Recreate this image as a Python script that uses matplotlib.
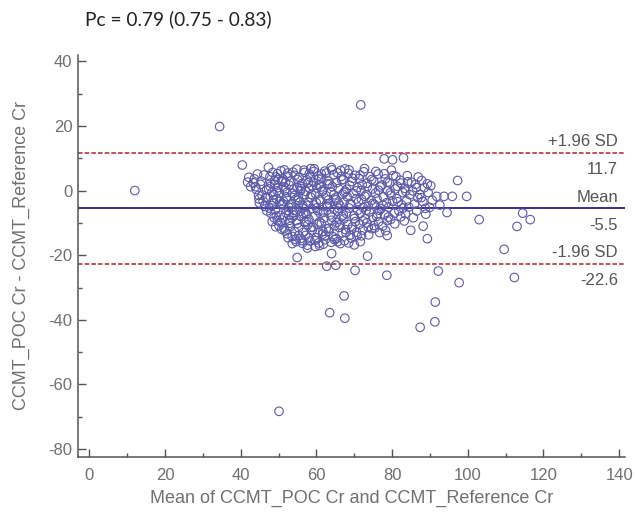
import matplotlib.pyplot as plt
from matplotlib.ticker import MultipleLocator

# Bland-Altman: mean of the two methods (x) and their difference (y)
mean_vals = [
    # main cluster
    40.4, 42.1, 42.6, 41.8,
    43.3, 44.1, 44.7, 43.6, 44.4, 44.9, 44.8, 43.9,
    46.1, 45.2, 46.8, 45.6, 45.9, 46.3, 46.9, 46.6, 45.4,
    48.4, 47.3, 48.9, 47.8, 48.2, 47.1, 48.6, 47.5, 48.0, 48.8, 48.3, 47.9, 48.7,
    50.6, 49.3, 50.9, 49.8, 50.2, 49.5, 50.7, 49.1, 50.4, 49.7, 50.1, 50.8, 49.9, 50.3, 49.6,
    52.4, 51.1, 52.8, 51.6, 52.1, 51.3, 52.6, 51.9, 51.2, 52.9, 51.5, 52.3, 52.0, 51.8, 52.7, 52.5,
    54.3, 53.2, 54.9, 53.7, 54.5, 53.4, 54.1, 53.9, 54.7, 53.1, 54.2, 53.6, 54.8, 53.3, 54.0, 54.6,
    56.7, 55.4, 56.2, 55.9, 56.8, 55.1, 56.4, 55.7, 56.0, 56.9, 55.3, 56.5, 55.8, 56.3, 55.6, 56.6, 55.2,
    58.1, 57.5, 58.8, 57.2, 58.4, 57.9, 58.6, 57.3, 58.0, 57.7, 58.9, 57.1, 58.3, 57.6, 58.5, 57.4, 58.2,
    60.5, 59.2, 60.1, 59.8, 60.9, 59.4, 60.3, 59.6, 60.8, 59.1, 60.4, 59.9, 60.6, 59.3, 60.0, 60.7, 59.7,
    62.2, 61.4, 62.9, 61.7, 62.5, 61.1, 62.8, 61.9, 62.0, 61.3, 62.6, 61.6, 62.3, 61.8, 62.7, 61.2,
    64.5, 63.1, 64.2, 63.8, 64.9, 63.4, 64.7, 63.6, 64.0, 64.8, 63.3, 64.4, 63.9, 64.1, 63.2,
    66.6, 65.3, 66.4, 65.8, 66.9, 65.1, 66.2, 65.6, 66.7, 65.4, 66.0, 66.8, 65.2, 66.3, 65.9,
    68.4, 67.1, 68.8, 67.6, 68.1, 67.3, 68.6, 67.9, 67.2, 68.3, 67.7, 68.9, 67.4, 68.0,
    70.2, 69.4, 70.8, 69.7, 70.5, 69.1, 70.9, 69.9, 70.3, 69.5, 70.6, 69.2, 70.0,
    72.5, 71.3, 72.1, 71.8, 72.8, 71.1, 72.4, 71.6, 72.9, 71.4, 72.2, 71.9,
    74.2, 73.4, 74.8, 73.1, 74.5, 73.7, 74.0, 74.9, 73.3, 74.6, 73.8,
    76.3, 75.1, 76.8, 75.6, 76.0, 75.3, 76.6, 75.9, 76.4, 75.4,
    78.2, 77.3, 78.8, 77.7, 78.5, 77.1, 78.0, 78.7, 77.5,
    80.3, 79.3, 80.8, 79.7, 80.1, 79.1, 80.6, 79.6,
    82.1, 81.4, 82.8, 81.2, 82.5, 81.8, 82.3,
    84.1, 83.3, 84.7, 83.8, 84.4, 83.5,
    86.2, 85.4, 86.8, 85.9, 86.5,
    87.8, 88.5, 87.3, 88.1, 88.8,
    90.2, 89.5, 90.6, 89.9,
    # second pass over the dense core
    47.7, 49.0, 48.2, 49.4, 47.4, 49.7, 48.6, 49.2,
    51.5, 50.8, 52.2, 51.0, 52.6, 50.5, 51.7, 52.9, 51.3, 52.4,
    53.8, 55.0, 54.2, 55.6, 53.5, 54.9, 55.3, 54.4, 55.8, 53.9,
    56.9, 57.8, 58.7, 56.4, 57.4, 58.6, 56.2, 57.9, 58.3, 57.1,
    59.4, 60.6, 61.5, 59.9, 61.0, 60.2, 61.7, 59.6, 61.3, 60.8,
    62.6, 63.5, 64.6, 62.9, 64.1, 63.3, 64.8, 62.3, 63.9,
    65.5, 66.7, 67.3, 65.8, 67.1, 66.2, 67.8, 65.6, 67.5,
    68.6, 69.6, 70.5, 68.9, 70.0, 69.3, 70.7, 68.5,
    71.5, 72.7, 73.4, 71.9, 73.1, 72.3, 73.7, 71.6,
    74.6, 75.7, 76.4, 74.9, 76.1, 75.2, 76.7,
    77.9, 78.8, 79.5, 77.6, 79.0, 78.3, 79.8,
    81.0, 82.3, 83.6, 81.5, 82.9, 80.7, 83.2, 84.0,
    85.1, 86.4, 87.7, 85.6, 88.9, 86.9, 89.3, 88.2,
    # right edge of the cluster
    91.8, 93.7, 95.9, 97.3, 99.7, 92.6, 94.5,
    # scattered points
    103.0, 114.5, 116.5, 113.0,
    77.9, 80.1, 83.0,
    12.0, 34.4, 71.7,
    50.1, 54.9, 64.0, 62.7, 65.1, 70.2, 73.5, 78.6, 89.3, 92.2, 97.7, 109.6, 112.3,
    67.3, 63.5, 67.5, 91.4, 91.3, 87.4, 78.7, 84.9, 53.6, 57.6,
]
diff_vals = [
    7.9, 4.1, 1.2, 2.6,
    2.4, 0.3, -1.5, 3.6, 5.1, -3.8, -2.6, 1.2,
    4.8, 1.9, 0.2, -1.4, -3.2, -4.9, -6.3, -2.2, 2.9,
    5.6, 7.2, 3.1, 1.2, -0.6, -2.1, -3.9, -5.4, -7.1, -8.4, -9.6, 2.3, -1.3,
    6.1, 4.2, 2.7, 0.9, -0.8, -2.6, -4.4, -6.0, -7.7, -9.3, -10.9, -12.0, 3.4, -3.3, -0.1,
    5.4, 3.6, 1.7, 0.1, -1.9, -3.4, -5.1, -6.9, -8.4, -10.1, -11.7, -13.4, -2.6, 2.5, -7.5, -14.6,
    4.7, 2.9, 0.9, -0.9, -2.7, -4.2, -6.1, -7.6, -9.3, -11.1, -12.7, -14.2, 6.6, -5.3, 0.4, -15.8,
    6.3, 4.1, 2.2, 0.6, -1.2, -3.0, -4.7, -6.4, -8.1, -9.8, -11.5, -13.0, -14.8, -16.3, 1.4, -7.2, -2.1,
    5.2, 3.3, 1.5, -0.3, -2.0, -3.7, -5.6, -7.3, -8.9, -10.6, -12.2, -13.9, -15.6, -16.9, 6.8, -4.6, 0.7,
    4.5, 2.6, 0.8, -1.0, -2.8, -4.5, -6.2, -7.9, -9.7, -11.3, -13.0, -14.6, -16.2, 5.9, -5.4, 1.8, -17.3,
    6.0, 3.9, 2.0, 0.2, -1.6, -3.3, -5.0, -6.7, -8.5, -10.2, -11.8, -13.5, -15.2, -16.6, -4.1, 1.1,
    4.9, 3.0, 1.2, -0.5, -2.3, -4.0, -5.8, -7.5, -9.2, -10.9, -12.6, -14.3, -16.0, 6.4, -2.9,
    4.4, 2.4, 6.2, 0.6, -1.1, -2.9, -4.7, -6.4, -8.0, -9.8, -11.4, -13.1, -14.9, -16.4, -5.5,
    5.3, 3.4, 1.6, -0.2, -1.9, -3.6, -5.4, -7.1, -8.8, -10.5, -12.1, -13.8, -15.5, 0.4,
    4.7, 2.8, 0.9, -0.9, -2.6, -4.4, -6.1, -7.8, -9.6, -11.2, -12.9, -14.7, -16.8,
    5.8, 3.7, 1.8, 0.0, -1.8, -3.5, -5.3, -7.0, -8.7, -10.4, -12.2, -14.0,
    4.3, 2.3, 0.5, -1.3, -3.1, -4.8, -6.6, -8.3, -10.0, -11.8, -13.7,
    5.1, 3.0, 1.1, -0.8, -2.6, -4.3, -6.1, -8.0, -9.7, -11.6,
    3.6, 1.7, -0.1, -1.9, -3.8, -5.6, -7.4, -9.3, -11.0,
    4.6, 2.4, 0.5, -1.4, -3.3, -5.1, -7.0, -8.9,
    3.2, 1.3, -0.6, -2.5, -4.4, -6.3, -8.1,
    2.7, 0.7, -1.3, -3.2, -5.1, -7.2,
    1.9, -0.1, -2.2, -4.2, -6.3,
    3.1, 0.9, -1.2, -3.4, -5.5,
    1.5, -0.6, -3.0, -5.2,
    4.3, 1.9, -4.7, -7.9, 0.5, 5.2, -2.9, -11.2,
    6.4, 3.0, -0.6, -4.0, -6.2, -9.9, -12.5, -9.2, 1.1, 4.5,
    5.7, 3.4, -1.6, -3.6, -8.4, -10.2, -13.9, -15.1, 0.0, -6.8,
    5.6, 2.4, -1.2, -5.4, -9.6, -11.4, -15.5, -14.7, 4.2, -6.8,
    6.7, 3.5, -0.3, -3.7, -7.1, -10.5, -12.6, -15.4, 5.1, -17.0,
    5.4, 2.0, -1.3, -4.8, -8.2, -11.7, -15.2, -13.9, 7.1,
    5.5, 3.3, -0.6, -3.9, -7.6, -10.6, -13.0, -15.8, 6.7,
    6.4, 3.8, -0.1, -4.0, -8.7, -12.0, -14.0, -16.2,
    4.8, 6.8, 1.2, -2.7, -6.1, -9.4, -11.4, -15.8,
    3.4, 5.9, 0.1, -4.0, -7.2, -10.8, -13.0,
    5.2, 2.6, -0.7, -4.6, -8.2, -12.4, 6.3,
    4.4, 2.3, -0.2, -3.5, -5.4, -10.3, -9.4, 4.6,
    2.6, 0.9, -2.2, -8.4, -7.3, 4.2, 2.1, -11.0,
    -1.8, -1.8, -1.8, 3.1, -1.8, -4.5, -6.8,
    -9.0, -7.0, -9.0, -11.1,
    9.8, 9.5, 10.1,
    0.0, 19.8, 26.5,
    -68.3, -20.7, -19.5, -23.4, -23.1, -24.7, -20.3, -26.2, -14.9, -24.9, -28.5, -18.2, -26.9,
    -32.6, -37.8, -39.5, -34.5, -40.6, -42.3, -13.9, -12.3, -16.4, -17.8,
]

bias = -5.5
upper_loa = 11.7
lower_loa = -22.6
ref_labels = [('+1.96 SD', upper_loa), ('Mean', bias), ('-1.96 SD', lower_loa)]

plt.rcParams['font.family'] = ['Liberation Sans', 'DejaVu Sans']
plt.rcParams['axes.unicode_minus'] = False

fig = plt.figure(figsize=(6.35, 5.12), dpi=100)
ax = fig.add_axes([0.123, 0.107, 0.861, 0.786])

ax.scatter(mean_vals, diff_vals, s=38, facecolors='none', edgecolors='#5b5bab',
           linewidths=0.8, zorder=3)

# mean difference and limits of agreement
ax.axhline(bias, color='#3030a0', lw=1.4, zorder=2)
ax.axhline(upper_loa, color='#b9473f', lw=1.3, ls=(0, (2.5, 1.2)), zorder=2)
ax.axhline(lower_loa, color='#b9473f', lw=1.3, ls=(0, (2.5, 1.2)), zorder=2)

for name, val in ref_labels:
    ax.annotate(name, xy=(1, val), xycoords=('axes fraction', 'data'),
                xytext=(-5, 2.5), textcoords='offset points', ha='right', va='bottom',
                fontsize=12, color='#555555')
    ax.annotate(f'{val:.1f}', xy=(1, val), xycoords=('axes fraction', 'data'),
                xytext=(-5, -7), textcoords='offset points', ha='right', va='top',
                fontsize=12, color='#555555')

ax.set_xlim(-3, 141.5)
ax.set_ylim(-82.5, 42)
ax.set_xticks(range(0, 141, 20))
ax.set_yticks(range(-80, 41, 20))
ax.xaxis.set_minor_locator(MultipleLocator(10))
ax.yaxis.set_minor_locator(MultipleLocator(10))

for s in ['top', 'right']:
    ax.spines[s].set_visible(False)
for s in ['left', 'bottom']:
    ax.spines[s].set_color('#555555')
    ax.spines[s].set_linewidth(1.1)

ax.tick_params(which='major', direction='in', length=6, width=1, color='#555555',
               labelcolor='#707070', labelsize=12)
ax.tick_params(axis='y', which='major', pad=4)
ax.tick_params(axis='x', which='major', pad=8)
ax.tick_params(which='minor', direction='in', length=3, width=1, color='#555555')

ax.set_xlabel('Mean of CCMT_POC Cr and CCMT_Reference Cr', fontsize=13, color='#707070', labelpad=5)
ax.set_ylabel('CCMT_POC Cr - CCMT_Reference Cr', fontsize=13, color='#707070', labelpad=13)

fig.text(0.134, 0.962, 'Pc = 0.79 (0.75 - 0.83)', fontsize=13.8, family=['Lato', 'DejaVu Sans'],
         va='center', ha='left', color='#222222')

plt.savefig('out.png', dpi=100)
